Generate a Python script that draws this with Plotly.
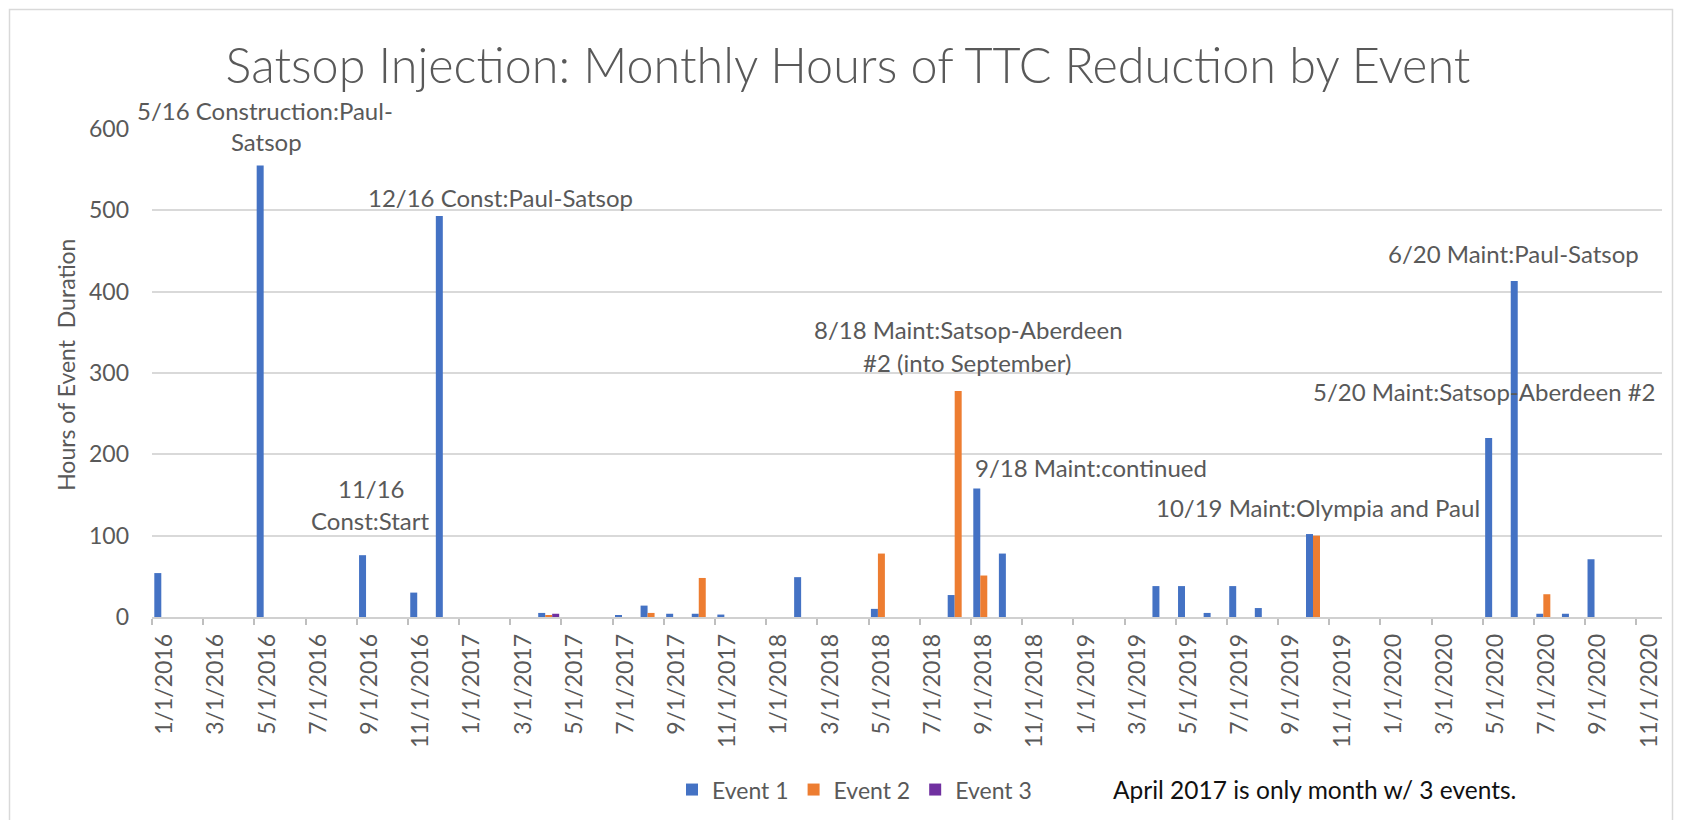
import plotly.graph_objects as go

# ---------------- data ----------------
months = [f"{m}/1/{y}" for y in range(2016, 2021) for m in range(1, 13)][:59]

event1 = [54, 0, 0, 0, 555, 0, 0, 0, 76, 0, 30, 493,
          0, 0, 0, 5, 0, 0, 2, 14, 4, 4, 3, 0,
          0, 49, 0, 0, 10, 0, 0, 27, 158, 78, 0, 0,
          0, 0, 0, 38, 38, 5, 38, 11, 0, 102, 0, 0,
          0, 0, 0, 0, 220, 413, 4, 4, 71, 0, 0]
event2 = [0, 0, 0, 0, 0, 0, 0, 0, 0, 0, 0, 0,
          0, 0, 0, 1.5, 0, 0, 0, 5, 0, 48, 0, 0,
          0, 0, 0, 0, 78, 0, 0, 278, 51, 0, 0, 0,
          0, 0, 0, 0, 0, 0, 0, 0, 0, 100, 0, 0,
          0, 0, 0, 0, 0, 0, 28, 0, 0, 0, 0]
event3 = [0, 0, 0, 0, 0, 0, 0, 0, 0, 0, 0, 0,
          0, 0, 0, 4, 0, 0, 0, 0, 0, 0, 0, 0,
          0, 0, 0, 0, 0, 0, 0, 0, 0, 0, 0, 0,
          0, 0, 0, 0, 0, 0, 0, 0, 0, 0, 0, 0,
          0, 0, 0, 0, 0, 0, 0, 0, 0, 0, 0]

series_names = ["Event 1", "Event 2", "Event 3"]
series_colors = ["#4472C4", "#ED7D31", "#7030A0"]

title_text = "Satsop Injection: Monthly Hours of TTC Reduction by Event"
y_title = "Hours of Event  Duration"
note_text = "April 2017 is only month w/ 3 events."

# label text, pixel centre (x, y) in page coordinates
labels = [
    ("5/16 Construction:Paul-", 265, 110),
    ("Satsop", 266, 142),
    ("12/16 Const:Paul-Satsop", 500, 198),
    ("11/16", 371, 489),
    ("Const:Start", 370, 521),
    ("8/18 Maint:Satsop-Aberdeen", 968, 330),
    ("#2 (into September)", 967, 363),
    ("9/18 Maint:continued", 1091, 468),
    ("10/19 Maint:Olympia and Paul", 1318, 508),
    ("5/20 Maint:Satsop-Aberdeen #2", 1484, 392),
    ("6/20 Maint:Paul-Satsop", 1513, 254),
]

# ---------------- layout geometry ----------------
OFF = 8                      # default page body margin
W, H = 1682 - 2 * OFF, 828 - 2 * OFF
L, R, T, B = 152 - OFF, 1662 - OFF, 129 - OFF, 617.3 - OFF
PW, PH = R - L, B - T


def px(x):
    return (x - OFF - L) / PW


def py(y):
    return (B - (y - OFF)) / PH


FONT = "Lato"
GREY = "#595959"

fig = go.Figure()
for name, vals, col in zip(series_names, [event1, event2, event3], series_colors):
    fig.add_trace(go.Bar(x=months, y=vals, name=name, marker_color=col,
                         marker_line_width=0))

annotations = []
for txt, x, y in labels:
    annotations.append(dict(text=txt, x=px(x), y=py(y), xref="paper", yref="paper",
                            xanchor="center", yanchor="middle", showarrow=False,
                            font=dict(family=FONT, size=24, color=GREY)))
annotations.append(dict(text=y_title, x=px(66), y=py(365), xref="paper", yref="paper",
                        xanchor="center", yanchor="middle", showarrow=False, textangle=-90,
                        font=dict(family=FONT, size=23, color=GREY)))
annotations.append(dict(text=note_text, x=px(1314), y=py(790), xref="paper", yref="paper",
                        xanchor="center", yanchor="middle", showarrow=False,
                        font=dict(family=FONT, size=24.5, color="#111111")))

fig.update_layout(
    width=W, height=H,
    margin=dict(l=L, r=W - R, t=T, b=H - B, autoexpand=False),
    paper_bgcolor="white", plot_bgcolor="white",
    barmode="group", bargap=0.18, bargroupgap=0,
    title=dict(text=title_text, xref="container", x=(848 - OFF) / W, xanchor="center",
               yref="container", y=1 - (66.5 - OFF) / H, yanchor="middle",
               font=dict(family=FONT, size=48.5, color=GREY, weight=300)),
    showlegend=True,
    legend=dict(orientation="h", x=px(672), xanchor="left", y=py(790), yanchor="middle",
                font=dict(family=FONT, size=23, color=GREY), bgcolor="rgba(0,0,0,0)",
                itemwidth=30, traceorder="normal"),
    annotations=annotations,
    shapes=[dict(type="rect", xref="paper", yref="paper",
                 x0=px(OFF + 1.5), x1=px(OFF + W - 1.5), y0=py(OFF + H + 20), y1=py(OFF + 1.5),
                 line=dict(color="#d9d9d9", width=1.5), fillcolor="rgba(0,0,0,0)",
                 layer="below")],
)

fig.update_xaxes(
    type="category", tickmode="linear", tick0=0, dtick=2,
    tickson="boundaries", ticks="outside", ticklen=6, tickcolor="#bfbfbf", tickwidth=1.5,
    tickangle=-90, showgrid=False, showline=True, linecolor="#d0d0d0", linewidth=1.5,
    tickfont=dict(family=FONT, size=23, color=GREY), ticklabelstandoff=6,
    range=[-0.5, 58.5], fixedrange=True,
)
fig.update_yaxes(
    range=[0, 600], dtick=100, showgrid=True, gridcolor="#d9d9d9", gridwidth=1.5,
    zeroline=False, showline=False, ticks="",
    tickfont=dict(family=FONT, size=23, color=GREY), ticklabelstandoff=22,
    fixedrange=True,
)

fig.write_html("out.html")
